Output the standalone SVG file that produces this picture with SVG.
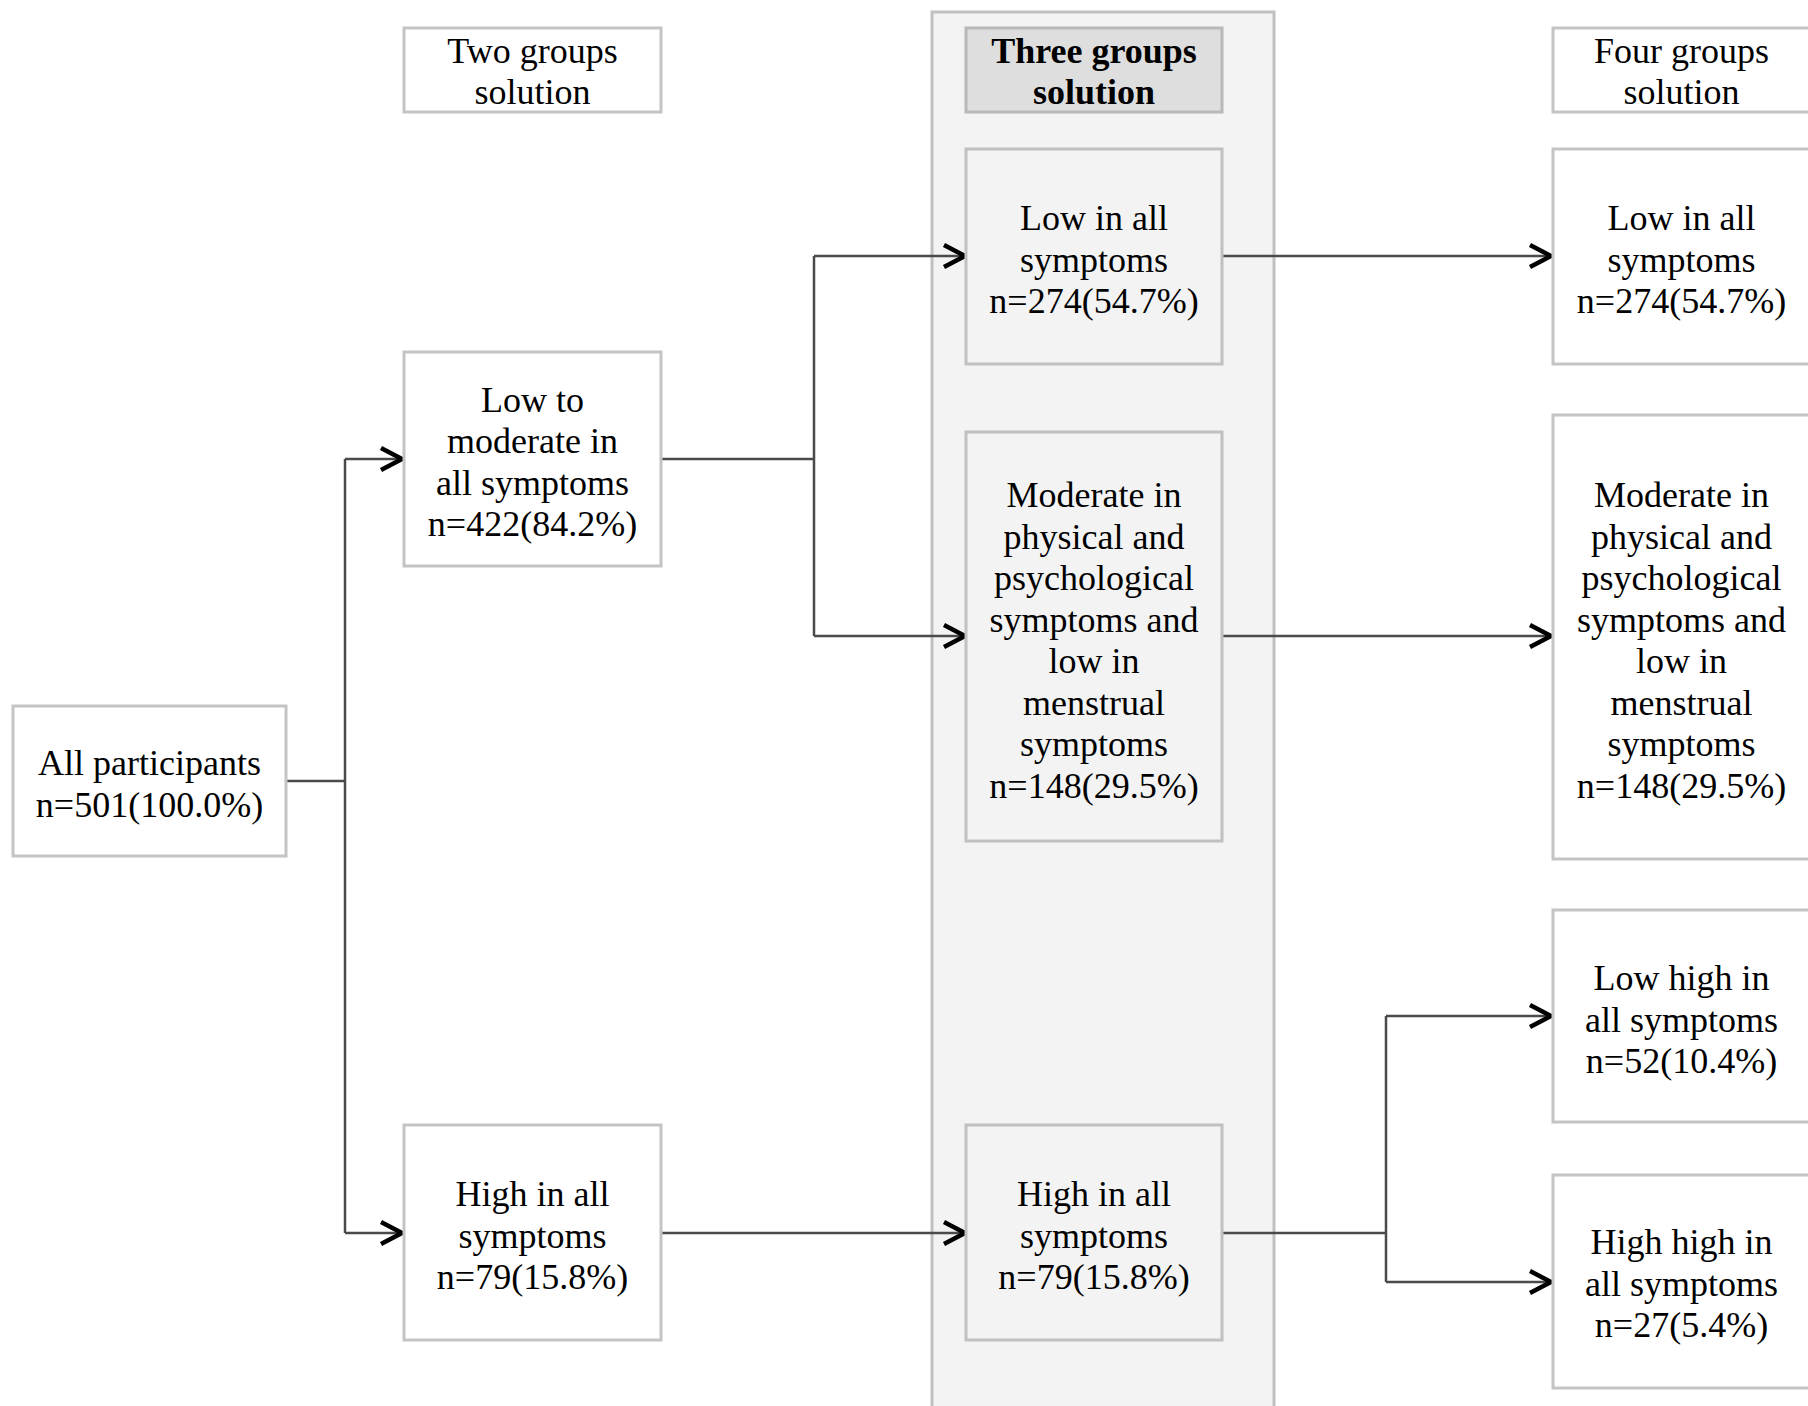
<svg xmlns="http://www.w3.org/2000/svg" width="1808" height="1406" viewBox="0 0 1808 1406">
<style>
.box{fill:#ffffff;stroke:#c4c4c4;stroke-width:3}
.gbox{fill:#f3f3f3;stroke:#c0c0c0;stroke-width:3}
.hbox{fill:#dedede;stroke:#b8b8b8;stroke-width:3}
.col{fill:#f3f3f3;stroke:#c0c0c0;stroke-width:3}
text{font-family:"Liberation Serif","Times New Roman",serif;font-size:36px;fill:#000;text-anchor:middle}
.b{font-weight:bold}
.ln{fill:none;stroke:#4a4a4a;stroke-width:2.5}
.ar{fill:none;stroke:#4a4a4a;stroke-width:2.5;marker-end:url(#arr)}
</style>
<defs>
<marker id="arr" markerUnits="userSpaceOnUse" markerWidth="30" markerHeight="30" refX="25" refY="14" orient="auto">
<path d="M3,3 L24,14 L3,25" fill="none" stroke="#000" stroke-width="4.5" stroke-linejoin="miter"/>
</marker>
</defs>
<rect width="1808" height="1406" fill="#ffffff"/>
<rect id="three-column" class="col" x="932" y="12" width="342" height="1410"/>

<g id="connectors">
<path class="ln" d="M286,781 H345"/>
<path class="ln" d="M345,459 V1233"/>
<path class="ar" d="M345,459 H403"/>
<path class="ar" d="M345,1233 H403"/>
<path class="ln" d="M661,459 H814"/>
<path class="ln" d="M814,256 V636"/>
<path class="ar" d="M814,256 H966"/>
<path class="ar" d="M814,636 H966"/>
<path class="ar" d="M661,1233 H966"/>
<path class="ar" d="M1222,256 H1552"/>
<path class="ar" d="M1222,636 H1552"/>
<path class="ln" d="M1222,1233 H1386"/>
<path class="ln" d="M1386,1016 V1282"/>
<path class="ar" d="M1386,1016 H1552"/>
<path class="ar" d="M1386,1282 H1552"/>
</g>

<g id="header-two">
<rect class="box" x="404" y="28" width="257" height="84"/>
<text x="532.5" y="63">Two groups</text>
<text x="532.5" y="104">solution</text>
</g>
<g id="header-three">
<rect class="hbox" x="966" y="28" width="256" height="84"/>
<text class="b" x="1094" y="63">Three groups</text>
<text class="b" x="1094" y="104">solution</text>
</g>
<g id="header-four">
<rect class="box" x="1553" y="28" width="257" height="84"/>
<text x="1681.5" y="63">Four groups</text>
<text x="1681.5" y="104">solution</text>
</g>

<g id="all-participants">
<rect class="box" x="13" y="706" width="273" height="150"/>
<text x="149.5" y="775">All participants</text>
<text x="149.5" y="816.5">n=501(100.0%)</text>
</g>

<g id="two-low-moderate">
<rect class="box" x="404" y="352" width="257" height="214"/>
<text x="532.5" y="411.5">Low to</text>
<text x="532.5" y="453">moderate in</text>
<text x="532.5" y="494.5">all symptoms</text>
<text x="532.5" y="536">n=422(84.2%)</text>
</g>
<g id="two-high">
<rect class="box" x="404" y="1125" width="257" height="215"/>
<text x="532.5" y="1206">High in all</text>
<text x="532.5" y="1247.5">symptoms</text>
<text x="532.5" y="1289">n=79(15.8%)</text>
</g>

<g id="three-low">
<rect class="gbox" x="966" y="149" width="256" height="215"/>
<text x="1094" y="230">Low in all</text>
<text x="1094" y="271.5">symptoms</text>
<text x="1094" y="313">n=274(54.7%)</text>
</g>
<g id="three-moderate">
<rect class="gbox" x="966" y="432" width="256" height="409"/>
<text x="1094" y="507">Moderate in</text>
<text x="1094" y="548.5">physical and</text>
<text x="1094" y="590">psychological</text>
<text x="1094" y="631.5">symptoms and</text>
<text x="1094" y="673">low in</text>
<text x="1094" y="714.5">menstrual</text>
<text x="1094" y="756">symptoms</text>
<text x="1094" y="797.5">n=148(29.5%)</text>
</g>
<g id="three-high">
<rect class="gbox" x="966" y="1125" width="256" height="215"/>
<text x="1094" y="1206">High in all</text>
<text x="1094" y="1247.5">symptoms</text>
<text x="1094" y="1289">n=79(15.8%)</text>
</g>

<g id="four-low">
<rect class="box" x="1553" y="149" width="257" height="215"/>
<text x="1681.5" y="230">Low in all</text>
<text x="1681.5" y="271.5">symptoms</text>
<text x="1681.5" y="313">n=274(54.7%)</text>
</g>
<g id="four-moderate">
<rect class="box" x="1553" y="415" width="257" height="444"/>
<text x="1681.5" y="507">Moderate in</text>
<text x="1681.5" y="548.5">physical and</text>
<text x="1681.5" y="590">psychological</text>
<text x="1681.5" y="631.5">symptoms and</text>
<text x="1681.5" y="673">low in</text>
<text x="1681.5" y="714.5">menstrual</text>
<text x="1681.5" y="756">symptoms</text>
<text x="1681.5" y="797.5">n=148(29.5%)</text>
</g>
<g id="four-low-high">
<rect class="box" x="1553" y="910" width="257" height="212"/>
<text x="1681.5" y="990">Low high in</text>
<text x="1681.5" y="1031.5">all symptoms</text>
<text x="1681.5" y="1073">n=52(10.4%)</text>
</g>
<g id="four-high-high">
<rect class="box" x="1553" y="1175" width="257" height="213"/>
<text x="1681.5" y="1254">High high in</text>
<text x="1681.5" y="1295.5">all symptoms</text>
<text x="1681.5" y="1337">n=27(5.4%)</text>
</g>
</svg>
